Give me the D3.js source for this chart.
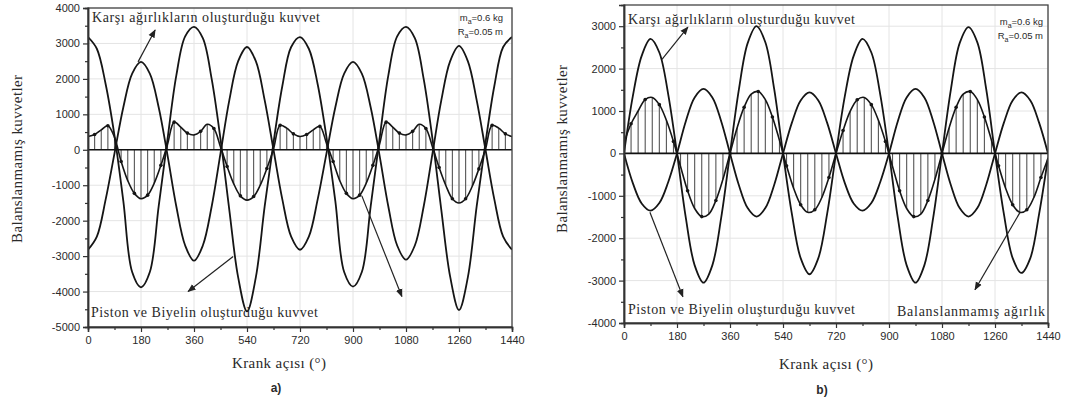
<!DOCTYPE html>
<html>
<head>
<meta charset="utf-8">
<script src="https://cdnjs.cloudflare.com/ajax/libs/d3/7.8.5/d3.min.js"></script>
<style>
  body { margin: 0; background: #fff; }
  svg { display: block; }
  .tick text { font-family: "Liberation Sans", Arial, sans-serif; font-size: 11px; fill: #2a2a2a; }
  .serif { font-family: "Liberation Serif", "Times New Roman", serif; fill: #2a2a2a; }
  .sans { font-family: "Liberation Sans", Arial, sans-serif; fill: #2a2a2a; }
</style>
</head>
<body>
<script>
// ---- data ----
var crankTicks = [0, 180, 360, 540, 720, 900, 1080, 1260, 1440];
var aForceTicks = [-5000, -4000, -3000, -2000, -1000, 0, 1000, 2000, 3000, 4000];
var bForceTicks = [-4000, -3000, -2000, -1000, 0, 1000, 2000, 3000];

// big curves sampled every 30 deg (0..1440)
var curveAngles = d3.range(0, 1441, 30);

// panel a) piston + conrod force
var aPiston = [3180, 2850, 1850, 400, -1450, -3450, -3880, -3450, -1600, 300, 2100, 3200,
  3470, 3150, 2000, 300, -1700, -3600, -4560, -3600, -1600, 200, 1800, 2900,
  3180, 2850, 1850, 350, -1450, -3450, -3860, -3450, -1600, 300, 2100, 3200,
  3470, 3150, 2000, 300, -1700, -3580, -4520, -3600, -1600, 200, 1800, 2900, 3180];
// panel a) counterweight force
var aCounter = [-2820, -2450, -1400, -100, 1200, 2150, 2480, 2150, 1200, -150, -1600, -2700,
  -3130, -2700, -1600, -100, 1400, 2500, 2900, 2500, 1400, 0, -1400, -2450,
  -2820, -2450, -1400, -100, 1200, 2150, 2480, 2150, 1200, -150, -1600, -2700,
  -3100, -2700, -1600, -100, 1400, 2500, 2930, 2500, 1400, 0, -1400, -2450, -2820];
// panel a) unbalanced force, one stem every 22.5 deg
var aStemAngles = d3.range(0, 1441, 22.5);
var aUnbalanced = [375, 430, 560, 680, 350, -330, -870, -1230, -1380, -1280, -940, -440,
  150, 780, 640, 470, 420, 520, 720, 600, 80, -470, -960, -1300, -1420, -1320, -1000, -530,
  20, 690, 610, 450, 375, 430, 560, 660, 180, -330, -870, -1230, -1380, -1280, -940, -440,
  150, 780, 640, 470, 420, 520, 720, 600, 80, -500, -1000, -1380, -1500, -1380, -1030, -540,
  20, 690, 610, 450, 375];

// panel b) counterweight force
var bCounter = [0, 1350, 2300, 2700, 2380, 1400, 0, -1520, -2640, -3050, -2640, -1520,
  0, 1500, 2600, 3000, 2620, 1520, 0, -1420, -2470, -2850, -2470, -1420,
  0, 1350, 2300, 2700, 2380, 1400, 0, -1520, -2640, -3050, -2640, -1520,
  0, 1500, 2600, 2980, 2620, 1520, 0, -1420, -2470, -2820, -2470, -1420, -100];
// panel b) piston + conrod force
var bPiston = [0, -700, -1180, -1350, -1170, -680, 0, 760, 1320, 1520, 1320, 760,
  0, -745, -1290, -1490, -1290, -745, 0, 720, 1250, 1440, 1250, 720,
  0, -700, -1180, -1350, -1170, -680, 0, 760, 1320, 1520, 1320, 760,
  0, -745, -1290, -1490, -1290, -745, 0, 720, 1250, 1440, 1250, 720, 0];
// panel b) unbalanced force, one stem every 24 deg
var bStemAngles = d3.range(0, 1441, 24);
var bUnbalanced = [250, 700, 1000, 1270, 1320, 1150, 780, 280, -310, -880, -1300, -1490,
  -1430, -1110, -610, 0, 600, 1090, 1400, 1460, 1270, 860, 310, -290, -820, -1210, -1390,
  -1330, -1040, -570, 0, 540, 990, 1265, 1320, 1150, 780, 280, -310, -880, -1300, -1490,
  -1430, -1110, -610, 0, 600, 1090, 1400, 1460, 1270, 860, 310, -290, -820, -1210, -1390,
  -1330, -1040, -570, -120];

var width = 1067, height = 403;
var svg = d3.select("body").append("svg")
    .attr("width", width)
    .attr("height", height);

// arrow head
svg.append("defs").append("marker")
    .attr("id", "head")
    .attr("viewBox", "0 0 10 10")
    .attr("refX", 9).attr("refY", 5)
    .attr("markerWidth", 7).attr("markerHeight", 7)
    .attr("orient", "auto-start-reverse")
  .append("path")
    .attr("d", "M0,1 L10,5 L0,9 z")
    .attr("fill", "#222");

var plain = function(d) { return String(d); };

function drawPanel(p) {
  var x = d3.scaleLinear().domain([0, 1440]).range([p.left, p.right]);
  var y = d3.scaleLinear().domain(p.yDomain).range([p.bottom, p.top]);
  var g = svg.append("g");

  g.append("clipPath").attr("id", p.id + "clip")
    .append("rect")
      .attr("x", p.left).attr("y", p.top)
      .attr("width", p.right - p.left).attr("height", p.bottom - p.top);

  // faint grid
  g.selectAll("line.gx").data(crankTicks).enter().append("line")
      .attr("x1", function(d) { return x(d); }).attr("x2", function(d) { return x(d); })
      .attr("y1", p.top).attr("y2", p.bottom)
      .attr("stroke", "#e4e4e4").attr("stroke-width", 1);
  g.selectAll("line.gy").data(p.yTicks).enter().append("line")
      .attr("x1", p.left).attr("x2", p.right)
      .attr("y1", function(d) { return y(d); }).attr("y2", function(d) { return y(d); })
      .attr("stroke", "#e4e4e4").attr("stroke-width", 1);

  var plot = g.append("g").attr("clip-path", "url(#" + p.id + "clip)");

  // stems of the unbalanced force
  plot.selectAll("line.stem").data(p.stemVals).enter().append("line")
      .attr("x1", function(d, i) { return x(p.stemAngles[i]); })
      .attr("x2", function(d, i) { return x(p.stemAngles[i]); })
      .attr("y1", y(0))
      .attr("y2", function(d) { return y(d); })
      .attr("stroke", "#555").attr("stroke-width", 1.1);

  var line = d3.line()
      .x(function(d) { return x(d[0]); })
      .y(function(d) { return y(d[1]); })
      .curve(d3.curveCatmullRom.alpha(0.5));

  p.curves.forEach(function(vals) {
    plot.append("path")
        .datum(vals.map(function(v, i) { return [curveAngles[i], v]; }))
        .attr("d", line)
        .attr("fill", "none")
        .attr("stroke", "#151515")
        .attr("stroke-width", 1.8);
  });

  plot.append("path")
      .datum(p.stemVals.map(function(v, i) { return [p.stemAngles[i], v]; }))
      .attr("d", line)
      .attr("fill", "none")
      .attr("stroke", "#151515")
      .attr("stroke-width", 1.6);

  // markers on every other stem top
  var dots = p.stemVals
      .map(function(v, i) { return [p.stemAngles[i], v]; })
      .filter(function(d, i) { return i % 2 === 1; });
  plot.selectAll("circle.dot").data(dots).enter().append("circle")
      .attr("cx", function(d) { return x(d[0]); })
      .attr("cy", function(d) { return y(d[1]); })
      .attr("r", 1.8)
      .attr("fill", "#151515");

  // zero line
  g.append("line")
      .attr("x1", p.left).attr("x2", p.right)
      .attr("y1", y(0)).attr("y2", y(0))
      .attr("stroke", "#111").attr("stroke-width", 1.6);

  // frame
  g.append("rect")
      .attr("x", p.left).attr("y", p.top)
      .attr("width", p.right - p.left).attr("height", p.bottom - p.top)
      .attr("fill", "none").attr("stroke", "#444").attr("stroke-width", 1.3);

  // axes
  g.append("g")
      .attr("transform", "translate(0," + p.bottom + ")")
      .call(d3.axisBottom(x).tickValues(crankTicks).tickSize(5).tickPadding(4).tickFormat(plain));
  g.append("g")
      .attr("transform", "translate(0," + p.bottom + ")")
      .call(d3.axisBottom(x).tickValues(d3.range(90, 1440, 180)).tickSize(3).tickFormat(""));
  g.append("g")
      .attr("transform", "translate(" + p.left + ",0)")
      .call(d3.axisLeft(y).tickValues(p.yTicks).tickSize(5).tickPadding(3).tickFormat(plain));
  g.append("g")
      .attr("transform", "translate(" + p.left + ",0)")
      .call(d3.axisLeft(y).tickValues(p.yMinor).tickSize(3).tickFormat(""));
  g.selectAll(".domain").attr("stroke", "#333").attr("stroke-width", 1.5);
  g.selectAll(".tick line").attr("stroke", "#333").attr("stroke-width", 1.2);

  // axis titles
  g.append("text").attr("class", "serif")
      .attr("x", p.xTitle[0]).attr("y", p.xTitle[1])
      .attr("text-anchor", "middle").attr("font-size", 15)
      .attr("textLength", 94).attr("lengthAdjust", "spacing")
      .text("Krank açısı (°)");
  g.append("text").attr("class", "serif")
      .attr("transform", "translate(" + p.yTitle[0] + "," + p.yTitle[1] + ") rotate(-90)")
      .attr("text-anchor", "middle").attr("font-size", 15)
      .attr("textLength", 168).attr("lengthAdjust", "spacing")
      .text("Balanslanmamış kuvvetler");
  g.append("text").attr("class", "sans")
      .attr("x", p.tag[0]).attr("y", p.tag[1])
      .attr("text-anchor", "middle").attr("font-size", 12).attr("font-weight", "bold")
      .text(p.id + ")");

  // annotations
  p.notes.forEach(function(n) {
    g.append("text").attr("class", "serif")
        .attr("x", n.x).attr("y", n.y)
        .attr("font-size", 14)
        .attr("textLength", n.w).attr("lengthAdjust", "spacing")
        .text(n.text);
  });
  p.arrows.forEach(function(a) {
    g.append("line")
        .attr("x1", x(a[0])).attr("y1", y(a[1]))
        .attr("x2", x(a[2])).attr("y2", y(a[3]))
        .attr("stroke", "#222").attr("stroke-width", 1.2)
        .attr("marker-end", "url(#head)");
  });

  // parameters box
  var m = g.append("text").attr("class", "sans").attr("font-size", 9.5)
      .attr("x", p.params[0]).attr("y", p.params[1]).attr("text-anchor", "end");
  m.append("tspan").text("m");
  m.append("tspan").attr("font-size", 7).attr("dy", 2.5).text("a");
  m.append("tspan").attr("dy", -2.5).text("=0.6 kg");
  var r = g.append("text").attr("class", "sans").attr("font-size", 9.5)
      .attr("x", p.params[0]).attr("y", p.params[1] + 14).attr("text-anchor", "end");
  r.append("tspan").text("R");
  r.append("tspan").attr("font-size", 7).attr("dy", 2.5).text("a");
  r.append("tspan").attr("dy", -2.5).text("=0.05 m");
}

drawPanel({
  id: "a",
  left: 88, right: 512, top: 8, bottom: 327,
  yDomain: [-5000, 4000],
  yTicks: aForceTicks,
  yMinor: d3.range(-4500, 4000, 1000),
  curves: [aPiston, aCounter],
  stemAngles: aStemAngles,
  stemVals: aUnbalanced,
  xTitle: [279, 368],
  yTitle: [22, 159],
  tag: [276, 392],
  params: [503, 21],
  notes: [
    { text: "Karşı ağırlıkların oluşturduğu kuvvet", x: 92, y: 22, w: 228 },
    { text: "Piston ve Biyelin oluşturduğu kuvvet", x: 91, y: 317, w: 227 }
  ],
  arrows: [
    [170, 2480, 228, 3380],
    [493, -3010, 340, -4000],
    [930, -1300, 1066, -4140]
  ]
});

drawPanel({
  id: "b",
  left: 624, right: 1048, top: 5, bottom: 323,
  yDomain: [-4000, 3500],
  yTicks: bForceTicks,
  yMinor: d3.range(-3500, 3500, 1000),
  curves: [bCounter, bPiston],
  stemAngles: bStemAngles,
  stemVals: bUnbalanced,
  xTitle: [826, 369],
  yTitle: [567, 149],
  tag: [822, 394],
  params: [1043, 25],
  notes: [
    { text: "Karşı ağırlıkların oluşturduğu kuvvet", x: 628, y: 24, w: 227 },
    { text: "Piston ve Biyelin oluşturduğu kuvvet", x: 628, y: 314, w: 227 },
    { text: "Balanslanmamış ağırlık", x: 897, y: 316, w: 148 }
  ],
  arrows: [
    [129, 2220, 217, 2980],
    [88, -1390, 200, -3380],
    [1345, -1390, 1192, -3215]
  ]
});
</script>
</body>
</html>
